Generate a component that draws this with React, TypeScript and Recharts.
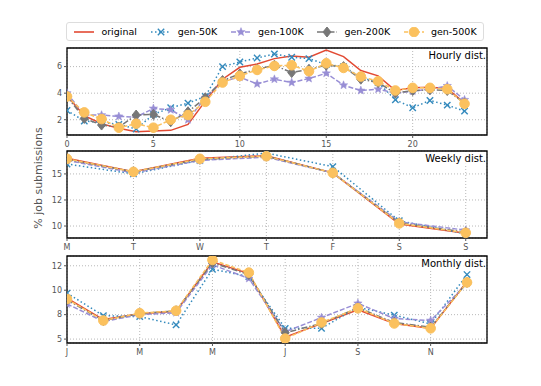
import { CartesianGrid, Line, LineChart, ReferenceArea, XAxis, YAxis } from 'recharts';

// hourly distribution (0..23 h)
const hours = [0, 1, 2, 3, 4, 5, 6, 7, 8, 9, 10, 11, 12, 13, 14, 15, 16, 17, 18, 19, 20, 21, 22, 23];
const hourlyOriginal = [3.8, 2.3, 1.7, 1.35, 1.1, 1.15, 1.2, 1.65, 3.4, 5.05, 5.95, 6.2, 6.6, 6.8, 6.7, 7.25, 6.75, 5.7, 5.3, 4.2, 4.4, 4.45, 4.35, 3.25];
const hourly50K = [2.7, 1.9, 1.8, 1.65, 1.3, 2.4, 2.9, 3.25, 3.75, 6.0, 6.35, 6.65, 6.95, 6.7, 6.6, 6.15, 6.0, 5.2, 4.8, 3.5, 2.9, 3.45, 3.1, 2.65];
const hourly100K = [4.0, 2.35, 2.35, 2.25, 2.2, 2.85, 2.75, 2.0, 3.65, 4.9, 5.2, 4.7, 5.05, 4.8, 5.1, 5.5, 4.6, 4.2, 4.3, 4.0, 4.15, 4.3, 4.55, 3.5];
const hourly200K = [3.75, 2.1, 1.6, 1.45, 2.35, 2.4, 1.85, 2.6, 3.65, 4.95, 5.45, 5.8, 6.1, 5.55, 5.8, 6.1, 6.0, 5.05, 4.8, 4.0, 4.2, 4.25, 4.2, 3.25];
const hourly500K = [3.75, 2.55, 2.05, 1.4, 1.7, 1.4, 2.0, 2.35, 3.35, 4.8, 5.3, 5.75, 6.05, 6.1, 5.65, 6.25, 5.9, 5.25, 4.9, 4.2, 4.4, 4.4, 4.3, 3.2];
const hourlyXTicks = [0, 5, 10, 15, 20];
const hourlyYTicks = [2, 4, 6];
const hourlyYLabels = ['2', '4', '6'];

// weekly distribution
const days = ['M', 'T', 'W', 'T', 'F', 'S', 'S'];
const weeklyOriginal = [16.5, 15.2, 16.5, 16.75, 15.1, 10.2, 9.3];
const weekly50K = [15.95, 15.0, 16.3, 17.0, 15.7, 10.5, 9.25];
const weekly100K = [16.3, 15.1, 16.3, 16.6, 15.1, 10.4, 9.6];
const weekly200K = [16.4, 15.2, 16.4, 16.7, 15.1, 10.3, 9.4];
const weekly500K = [16.45, 15.2, 16.45, 16.7, 15.1, 10.25, 9.35];
const weeklyYTicks = [10, 12.5, 15];
const weeklyYLabels = ['10', '12', '15'];

// monthly distribution
const months = ['J', 'F', 'M', 'A', 'M', 'J', 'J', 'A', 'S', 'O', 'N', 'D'];
const monthlyOriginal = [9.2, 7.0, 7.6, 7.85, 12.9, 11.7, 5.2, 6.6, 8.0, 6.6, 6.1, 10.9];
const monthly50K = [9.7, 7.4, 7.3, 6.45, 12.15, 11.4, 6.1, 6.1, 8.25, 7.45, 6.55, 11.6];
const monthly100K = [8.6, 6.8, 7.5, 7.7, 12.6, 11.2, 5.75, 7.2, 8.65, 7.1, 6.9, 10.7];
const monthly200K = [9.0, 6.9, 7.6, 7.9, 12.8, 11.6, 5.65, 6.6, 8.2, 6.7, 6.2, 10.8];
const monthly500K = [9.1, 6.9, 7.65, 7.9, 13.1, 11.8, 5.05, 6.7, 8.15, 6.6, 6.1, 10.8];
const monthlyXTicks = [0, 2, 4, 6, 8, 10];
const monthlyYTicks = [5, 7.5, 10, 12.5];
const monthlyYLabels = ['5', '8', '10', '12'];

type MarkerKind = 'none' | 'x' | 'star' | 'diamond' | 'circle';

const SERIES: { key: string; name: string; color: string; dash?: string; marker: MarkerKind }[] = [
  { key: 'original', name: 'original', color: '#E24A33', marker: 'none' },
  { key: 'g50', name: 'gen-50K', color: '#348ABD', dash: '1.5 2.5', marker: 'x' },
  { key: 'g100', name: 'gen-100K', color: '#988ED5', dash: '5 2', marker: 'star' },
  { key: 'g200', name: 'gen-200K', color: '#777777', dash: '6 2 1.5 2', marker: 'diamond' },
  { key: 'g500', name: 'gen-500K', color: '#FBC15E', dash: '4 2', marker: 'circle' },
];

const FONT = '"DejaVu Sans", sans-serif';
const TICK = { fontSize: 8, fill: '#555', fontFamily: FONT };

function buildRows(xs: number[], o: number[], a: number[], b: number[], c: number[], d: number[]) {
  return xs.map((x, i) => ({ x, original: o[i], g50: a[i], g100: b[i], g200: c[i], g500: d[i] }));
}

const hourlyData = buildRows(hours, hourlyOriginal, hourly50K, hourly100K, hourly200K, hourly500K);
const weeklyData = buildRows(days.map((_, i) => i), weeklyOriginal, weekly50K, weekly100K, weekly200K, weekly500K);
const monthlyData = buildRows(months.map((_, i) => i), monthlyOriginal, monthly50K, monthly100K, monthly200K, monthly500K);

function Marker({ cx, cy, kind, color }: { cx: number; cy: number; kind: MarkerKind; color: string }) {
  if (kind === 'x') {
    const r = 3.2;
    return (
      <g stroke={color} strokeWidth={1.4}>
        <line x1={cx - r} y1={cy - r} x2={cx + r} y2={cy + r} />
        <line x1={cx - r} y1={cy + r} x2={cx + r} y2={cy - r} />
      </g>
    );
  }
  if (kind === 'star') {
    const pts: string[] = [];
    for (let k = 0; k < 10; k++) {
      const r = k % 2 === 0 ? 4.4 : 1.9;
      const a = (Math.PI / 5) * k - Math.PI / 2;
      pts.push(`${cx + r * Math.cos(a)},${cy + r * Math.sin(a)}`);
    }
    return <polygon points={pts.join(' ')} fill={color} stroke={color} strokeWidth={0.5} />;
  }
  if (kind === 'diamond') {
    return (
      <polygon
        points={`${cx},${cy - 5} ${cx + 4},${cy} ${cx},${cy + 5} ${cx - 4},${cy}`}
        fill={color}
        stroke={color}
      />
    );
  }
  if (kind === 'circle') {
    return <circle cx={cx} cy={cy} r={4.8} fill={color} stroke={color} />;
  }
  return null;
}

function LegendIcon({ s }: { s: (typeof SERIES)[number] }) {
  return (
    <svg width={22} height={10} style={{ marginRight: 6 }}>
      <line x1={1} y1={5} x2={21} y2={5} stroke={s.color} strokeWidth={1.6} strokeDasharray={s.dash} />
      <Marker cx={11} cy={5} kind={s.marker} color={s.color} />
    </svg>
  );
}

function Panel({
  data,
  top,
  title,
  xDomain,
  xTicks,
  xFormat,
  yDomain,
  yTicks,
  yLabels,
}: {
  data: Record<string, number>[];
  top: number;
  title: string;
  xDomain: [number, number];
  xTicks: number[];
  xFormat: (v: number) => string;
  yDomain: [number, number];
  yTicks: number[];
  yLabels: string[];
}) {
  return (
    <div style={{ position: 'absolute', left: 0, top, width: 541, height: 115 }}>
      <LineChart width={541} height={115} data={data} margin={{ top: 11, right: 54, left: 0, bottom: 0 }}>
        <CartesianGrid stroke="#b8b8b8" strokeDasharray="1 2" />
        <XAxis
          dataKey="x"
          type="number"
          domain={xDomain}
          allowDataOverflow
          ticks={xTicks}
          tickFormatter={xFormat}
          tick={TICK}
          tickSize={3}
          tickMargin={3}
          height={17}
          stroke="#555"
          axisLine={false}
        />
        <YAxis
          type="number"
          domain={yDomain}
          allowDataOverflow
          ticks={yTicks}
          tickFormatter={(v: number) => yLabels[yTicks.indexOf(v)] ?? ''}
          tick={TICK}
          tickSize={3}
          tickMargin={2}
          width={67}
          stroke="#555"
          axisLine={false}
        />
        {SERIES.map((s) => (
          <Line
            key={s.key}
            dataKey={s.key}
            name={s.name}
            stroke={s.color}
            strokeWidth={1.5}
            strokeDasharray={s.dash}
            isAnimationActive={false}
            dot={(p: { cx: number; cy: number; index: number }) => (
              <g key={`${s.key}-${p.index}`}>
                <Marker cx={p.cx} cy={p.cy} kind={s.marker} color={s.color} />
              </g>
            )}
            activeDot={false}
          />
        ))}
        <ReferenceArea
          x1={xDomain[0]}
          x2={xDomain[1]}
          y1={yDomain[0]}
          y2={yDomain[1]}
          fill="none"
          fillOpacity={0}
          stroke="#000"
          strokeWidth={1.3}
          ifOverflow="visible"
        />
      </LineChart>
      <div
        style={{
          position: 'absolute',
          right: 55,
          top: 13,
          fontFamily: FONT,
          fontSize: 10,
          color: '#000',
          background: 'rgba(255,255,255,0.8)',
          lineHeight: '12px',
        }}
      >
        {title}
      </div>
    </div>
  );
}

export default function App() {
  return (
    <div style={{ position: 'fixed', left: 0, top: 0, width: 541, height: 386, background: '#fff' }}>
      <div
        style={{
          position: 'absolute',
          left: 66,
          top: 22,
          width: 418,
          height: 19,
          border: '1px solid #ddd',
          borderRadius: 3,
          display: 'flex',
          alignItems: 'center',
          justifyContent: 'space-around',
          fontFamily: FONT,
          fontSize: 9.5,
          color: '#000',
          boxSizing: 'border-box',
        }}
      >
        {SERIES.map((s) => (
          <div key={s.key} style={{ display: 'flex', alignItems: 'center' }}>
            <LegendIcon s={s} />
            <span>{s.name}</span>
          </div>
        ))}
      </div>
      <Panel
        data={hourlyData}
        top={37}
        title="Hourly dist."
        xDomain={[0, 24.3]}
        xTicks={hourlyXTicks}
        xFormat={(v) => String(v)}
        yDomain={[0.85, 7.4]}
        yTicks={hourlyYTicks}
        yLabels={hourlyYLabels}
      />
      <Panel
        data={weeklyData}
        top={140}
        title="Weekly dist."
        xDomain={[0, 6.32]}
        xTicks={[0, 1, 2, 3, 4, 5, 6]}
        xFormat={(v) => days[v] ?? ''}
        yDomain={[8.85, 17.2]}
        yTicks={weeklyYTicks}
        yLabels={weeklyYLabels}
      />
      <Panel
        data={monthlyData}
        top={245}
        title="Monthly dist."
        xDomain={[0, 11.55]}
        xTicks={monthlyXTicks}
        xFormat={(v) => months[v] ?? ''}
        yDomain={[4.6, 13.5]}
        yTicks={monthlyYTicks}
        yLabels={monthlyYLabels}
      />
      <div
        style={{
          position: 'absolute',
          left: 38,
          top: 178,
          transform: 'translate(-50%, -50%) rotate(-90deg)',
          whiteSpace: 'nowrap',
          fontFamily: FONT,
          fontSize: 11,
          color: '#555',
        }}
      >
        % job submissions
      </div>
    </div>
  );
}
